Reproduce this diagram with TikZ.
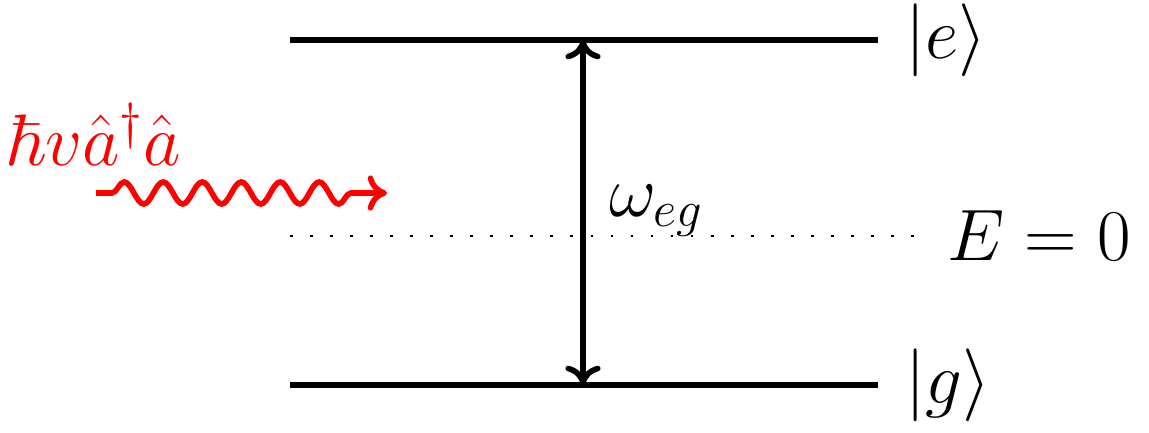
\documentclass[tikz,border=0pt]{standalone}
\usepackage{amsmath,amssymb}
\usetikzlibrary{decorations.pathmorphing,arrows.meta}

\begin{document}
\begin{tikzpicture}[every node/.style={font=\huge},
  >={Computer Modern Rightarrow[length=5.5pt,width=10pt]},
  level/.style={line width=1.6pt},
  photon/.style={red,line width=1.6pt,->,decorate,
    decoration={snake,segment length=.39cm,amplitude=.11cm,
      pre length=.16cm,post length=.28cm}}]
\useasboundingbox (0,0) rectangle (11.49,4.32);
  \coordinate (E1) at (2.90,3.92); \coordinate (E2) at (8.78,3.92);
  \coordinate (G1) at (2.90,.47); \coordinate (G2) at (8.78,.47);
  \coordinate (Z1) at (2.90,1.96); \coordinate (Z2) at (9.20,1.96);
  \coordinate (Et) at (5.83,3.92); \coordinate (Gt) at (5.83,.47);
  \coordinate (P1) at (.96,2.39); \coordinate (P2) at (3.87,2.39);
  \draw[level] (E1)--(E2) (G1)--(G2);
  \draw[line width=.8pt,dash pattern=on .8pt off 4.9pt] (Z1)--(Z2);
  \draw[level,<->] (Gt)--(Et);
  \node[right=.15cm] (kete) at (E2) {$|e\rangle$};
  \node[right=.15cm] (ketg) at (G2) {$|g\rangle$};
  \node[right=.15cm] (zero) at (Z2) {$E=0$};
  \node[anchor=base west] (omega) at (5.97,2.16) {$\omega_{eg}$};
  \draw[photon] (P1)--(P2);
  \node[red,anchor=base west,inner sep=0pt] (field) at (.05,2.67)
    {$\hbar v\hat{a}^\dagger\hat{a}$};
\end{tikzpicture}
\end{document}
